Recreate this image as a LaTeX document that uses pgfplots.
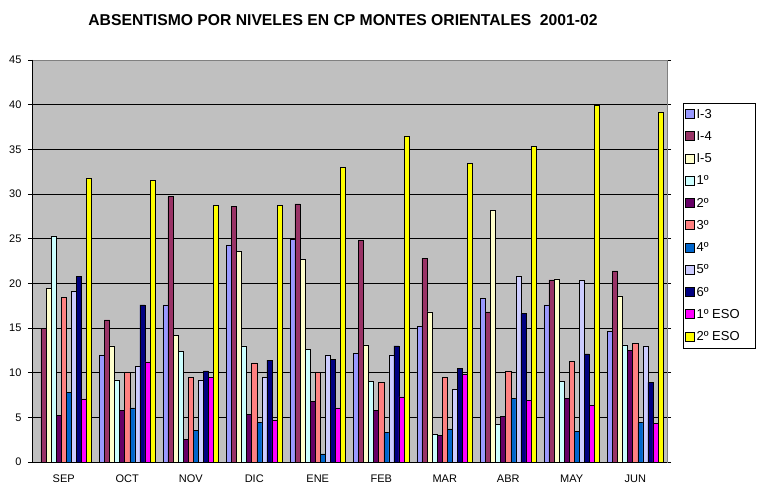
\documentclass[border=0pt]{standalone}
\usepackage{pgfplots}
\pgfplotsset{compat=1.18}
\usepackage{fontspec}
\setmainfont{Liberation Sans}
\definecolor{cIthree}{HTML}{9999FF}
\definecolor{cIfour}{HTML}{993366}
\definecolor{cIfive}{HTML}{FFFFCC}
\definecolor{cone}{HTML}{CCFFFF}
\definecolor{ctwo}{HTML}{660066}
\definecolor{cthree}{HTML}{FF8080}
\definecolor{cfour}{HTML}{0066CC}
\definecolor{cfive}{HTML}{CCCCFF}
\definecolor{csix}{HTML}{000080}
\definecolor{ceso}{HTML}{FF00FF}
\definecolor{cesotwo}{HTML}{FFFF00}
\definecolor{plotbg}{HTML}{C0C0C0}
\begin{document}
\begin{tikzpicture}
\begin{axis}[set layers,scale only axis,width=635bp,height=402bp,
 ybar=0pt,bar width=5.06bp,
 xmin=-0.5,xmax=9.5,ymin=0,ymax=45,ytick={0,5,...,45},
 xtick={0,...,9},xticklabels={SEP,OCT,NOV,DIC,ENE,FEB,MAR,ABR,MAY,JUN},
 major x tick style={draw=none},
 extra x ticks={-0.5,0.5,...,9.5},extra x tick labels={},
 extra x tick style={grid=none,major tick length=4bp,tick style={black}},
 tick align=outside,major tick length=4bp,tick style={black,line width=0.6pt},
 ymajorgrids,grid style={black,line width=0.5pt},
 axis background/.style={fill=plotbg},
 axis line style={gray,line width=0.8pt},
 tick label style={font=\fontsize{11bp}{13bp}\selectfont},
 /pgf/number format/assume math mode=true,
 every x tick label/.append style={yshift=-5bp},
 every y tick label/.append style={xshift=-3bp},
 legend style={at={(rel axis cs:1.0252,0.893)},anchor=north west,draw=black,fill=white,
  font=\fontsize{13bp}{15bp}\selectfont,row sep=7.7bp,inner xsep=2bp,inner ysep=4bp,
  cells={anchor=west}},
 legend image code/.code={\draw[#1,draw=black,line width=0.4pt] (0bp,-4bp) rectangle (9bp,5bp);},
 every axis plot/.append style={draw=black,line width=0.5pt},
]
\addplot[fill=cIthree] coordinates {(1,12.0) (2,17.6) (3,24.3) (4,24.9) (5,12.2) (6,15.2) (7,18.3) (8,17.6) (9,14.6)};
\addplot[fill=cIfour] coordinates {(0,15.0) (1,15.9) (2,29.7) (3,28.6) (4,28.9) (5,24.8) (6,22.8) (7,16.8) (8,20.4) (9,21.4)};
\addplot[fill=cIfive] coordinates {(0,19.4) (1,13.0) (2,14.2) (3,23.6) (4,22.7) (5,13.1) (6,16.8) (7,28.2) (8,20.5) (9,18.6)};
\addplot[fill=cone] coordinates {(0,25.3) (1,9.2) (2,12.4) (3,13.0) (4,12.6) (5,9.0) (6,3.1) (7,4.2) (8,9.0) (9,13.1)};
\addplot[fill=ctwo] coordinates {(0,5.2) (1,5.8) (2,2.5) (3,5.3) (4,6.8) (5,5.75) (6,2.95) (7,5.1) (8,7.1) (9,12.5)};
\addplot[fill=cthree] coordinates {(0,18.4) (1,10.1) (2,9.5) (3,11.1) (4,10.1) (5,8.9) (6,9.5) (7,10.2) (8,11.3) (9,13.3)};
\addplot[fill=cfour] coordinates {(0,7.8) (1,6.05) (2,3.5) (3,4.4) (4,0.9) (5,3.3) (6,3.7) (7,7.1) (8,3.4) (9,4.4)};
\addplot[fill=cfive] coordinates {(0,19.1) (1,10.7) (2,9.2) (3,9.5) (4,12.0) (5,12.0) (6,8.1) (7,20.8) (8,20.3) (9,13.0)};
\addplot[fill=csix] coordinates {(0,20.8) (1,17.6) (2,10.2) (3,11.4) (4,11.5) (5,13.0) (6,10.5) (7,16.6) (8,12.1) (9,8.9)};
\addplot[fill=ceso] coordinates {(0,7.06) (1,11.2) (2,9.5) (3,4.7) (4,6.05) (5,7.3) (6,9.8) (7,6.9) (8,6.3) (9,4.3)};
\addplot[fill=cesotwo] coordinates {(0,31.8) (1,31.5) (2,28.75) (3,28.75) (4,33.0) (5,36.5) (6,33.4) (7,35.3) (8,39.95) (9,39.2)};
\legend{I-3,I-4,I-5,1º,2º,3º,4º,5º,6º,1º ESO\hspace*{12bp},2º ESO}
\draw[black,line width=0.8pt] (rel axis cs:0,1) -- (rel axis cs:0,0) -- (rel axis cs:1,0);
\end{axis}
\node[font=\fontsize{15.7bp}{18bp}\selectfont\bfseries] at (311bp,442bp) {ABSENTISMO POR NIVELES EN CP MONTES ORIENTALES\ \ 2001-02};
\path (-32bp,-20bp) rectangle (726bp,462bp);
\end{tikzpicture}
\end{document}
